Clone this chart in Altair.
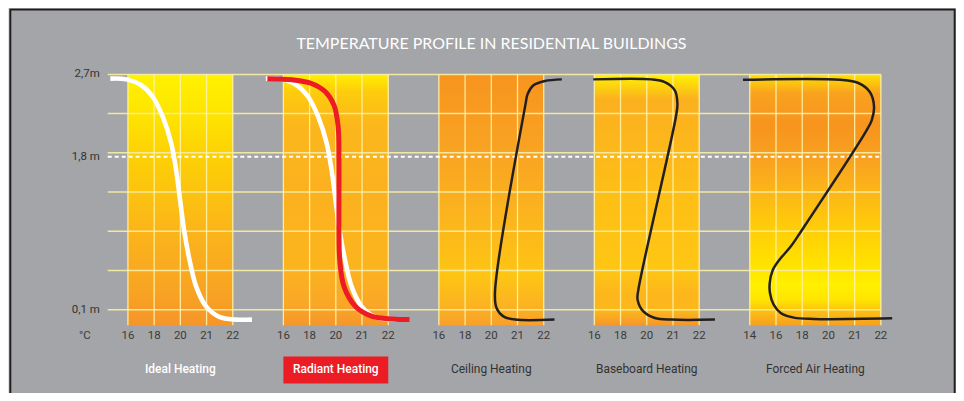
import altair as alt
import pandas as pd

# ---------------- data ----------------
TITLE = "TEMPERATURE PROFILE IN RESIDENTIAL BUILDINGS"
panel_names = ["Ideal Heating", "Radiant Heating", "Ceiling Heating",
               "Baseboard Heating", "Forced Air Heating"]
tick_labels = [
    ["16", "18", "20", "21", "22"],
    ["16", "18", "20", "21", "22"],
    ["16", "18", "20", "21", "22"],
    ["16", "18", "20", "21", "22"],
    ["14", "16", "18", "20", "21", "22"],
]
unit_label = "°C"
height_labels = ["2,7m", "1,8 m", "0,1 m"]
height_values = [2.7, 1.79, 0.1]
grid_heights = [0.1, 0.533, 0.967, 1.4, 1.833, 2.267, 2.7]
comfort_height = 1.79

# curve positions along each panel's temperature axis (tick index units) and height (m)
ideal_u = [-0.67, -0.06, 0.51, 0.95, 1.33, 1.65, 1.84, 1.99, 2.16, 2.35, 2.6, 2.98, 3.49, 4.12, 4.73]
ideal_h = [2.653, 2.645, 2.58, 2.45, 2.23, 1.94, 1.64, 1.31, 0.945, 0.65, 0.357, 0.136, 0.02, -0.01, -0.01]

radiant_u = [-0.61, 0.34, 1.10, 1.61, 1.93, 2.09, 2.12, 2.12, 2.15, 2.31, 2.75, 3.39, 4.15, 4.81]
radiant_h = [2.653, 2.64, 2.597, 2.505, 2.36, 2.12, 1.75, 1.018, 0.65, 0.357, 0.136, 0.026, -0.003, -0.01]

ceiling_u = [4.69, 4.05, 3.61, 3.39, 3.31, 2.14, 2.20, 2.46, 2.91, 4.41]
ceiling_h = [2.645, 2.627, 2.58, 2.487, 2.377, 0.284, 0.118, 0.026, -0.01, -0.01]

baseboard_u = [-0.04, 2.18, 2.69, 3.07, 3.17, 3.11, 1.68, 1.65, 1.87, 2.31, 2.94, 4.6]
baseboard_h = [2.645, 2.645, 2.615, 2.524, 2.377, 2.23, 0.32, 0.21, 0.081, 0.008, -0.01, -0.01]

forced_u = [-0.26, 3.45, 4.14, 4.58, 4.74, 4.65, 4.46, 1.96, 1.56, 1.13, 0.87, 0.76, 0.77, 0.91, 1.18, 1.68, 2.43, 5.43]
forced_h = [2.64, 2.64, 2.605, 2.505, 2.34, 2.193, 2.083, 0.967, 0.797, 0.651, 0.533, 0.394, 0.284, 0.155, 0.064, 0.012, -0.003, 0.004]

# ---------------- layout / style ----------------
STEP = 5.93            # panel-to-panel offset in tick units
W, H = 951, 385
XS = alt.Scale(domain=[-4.5741, 31.5856], nice=False, zero=False)
YS = alt.Scale(domain=[-0.8144, 3.4271], nice=False, zero=False)
PANEL_TOP, PANEL_BOTTOM = 2.7, -0.073
FONT = "Roboto"

gradients = [
    [(0, "#fff200"), (0.15, "#fee500"), (0.33, "#fdd005"), (0.62, "#fbb51a"), (0.88, "#f8a224"), (1, "#f5952a")],
    [(0, "#ffef00"), (0.07, "#fdcc0c"), (0.2, "#fcb71b"), (0.45, "#fbb11f"), (0.75, "#fcb41d"), (0.92, "#f9a727"), (1, "#f5962a")],
    [(0, "#f7941e"), (0.3, "#f9a322"), (0.55, "#fbb31e"), (0.8, "#fec513"), (0.92, "#fbb321"), (1, "#f8a02b")],
    [(0, "#fff200"), (0.1, "#fbb01f"), (0.18, "#fcb31d"), (0.5, "#febf16"), (0.78, "#ffc613"), (0.88, "#fdb51c"), (0.94, "#fcb81b"), (1, "#f7962a")],
    [(0, "#ffe100"), (0.075, "#f9a21f"), (0.2, "#f7941e"), (0.33, "#f8a020"), (0.47, "#fcb618"), (0.6, "#ffcb0a"), (0.74, "#ffe000"), (0.84, "#fff000"), (0.9, "#ffe400"), (0.95, "#fbbb14"), (1, "#f8a020")],
]


def grad(stops):
    return {"gradient": "linear", "x1": 0, "y1": 0, "x2": 0, "y2": 1,
            "stops": [{"offset": o, "color": c} for o, c in stops]}


one = pd.DataFrame({"a": [0]})
layers = []

# frame
layers.append(alt.Chart(one).mark_rect(fill="#a4a5a8", stroke="#1e1e1e", strokeWidth=2).encode(
    x=alt.value(2.3), x2=alt.value(949.7), y=alt.value(1), y2=alt.value(430)))

# panels
for k, labs in enumerate(tick_labels):
    df = pd.DataFrame({"x": [k * STEP], "x2": [k * STEP + len(labs) - 1],
                       "y": [PANEL_TOP], "y2": [PANEL_BOTTOM]})
    layers.append(alt.Chart(df).mark_rect(fill=grad(gradients[k])).encode(
        x=alt.X("x:Q", scale=XS, axis=None), x2="x2:Q",
        y=alt.Y("y:Q", scale=YS, axis=None), y2="y2:Q"))

left_u = -0.77
right_u = (len(tick_labels) - 1) * STEP + len(tick_labels[-1]) - 1

# horizontal grid
gdf = pd.DataFrame({"h": grid_heights, "x": left_u, "x2": right_u})
layers.append(alt.Chart(gdf).mark_rule(color="#f4eba2", strokeWidth=1.5, opacity=0.95).encode(
    x=alt.X("x:Q", scale=XS, axis=None), x2="x2:Q",
    y=alt.Y("h:Q", scale=YS, axis=None)))

# vertical tick lines
vrows = []
for k, labs in enumerate(tick_labels):
    for i, lab in enumerate(labs):
        vrows.append({"u": k * STEP + i, "y": PANEL_TOP, "y2": PANEL_BOTTOM, "label": lab})
vdf = pd.DataFrame(vrows)
layers.append(alt.Chart(vdf).mark_rule(color="#fff3a8", strokeWidth=1.3, opacity=0.9).encode(
    x=alt.X("u:Q", scale=XS, axis=None),
    y=alt.Y("y:Q", scale=YS, axis=None), y2="y2:Q"))

# dashed comfort line
ddf = pd.DataFrame({"h": [comfort_height], "x": [left_u], "x2": [right_u]})
layers.append(alt.Chart(ddf).mark_rule(color="#ffffff", strokeWidth=2, strokeDash=[4, 3]).encode(
    x=alt.X("x:Q", scale=XS, axis=None), x2="x2:Q",
    y=alt.Y("h:Q", scale=YS, axis=None)))


def curve(us, hs, k, name):
    return pd.DataFrame({"u": [k * STEP + v for v in us], "h": hs,
                         "i": list(range(len(us))), "s": name})


white = pd.concat([curve(ideal_u, ideal_h, 0, "ideal"), curve(ideal_u, ideal_h, 1, "ideal2")])
red = curve(radiant_u, radiant_h, 1, "radiant")
black = pd.concat([curve(ceiling_u, ceiling_h, 2, "ceiling"),
                   curve(baseboard_u, baseboard_h, 3, "baseboard"),
                   curve(forced_u, forced_h, 4, "forced")])

for df, col, sw in [(white, "#ffffff", 4.6), (red, "#ed1c24", 5), (black, "#231f20", 2.5)]:
    layers.append(alt.Chart(df).mark_line(color=col, strokeWidth=sw, interpolate="catmull-rom").encode(
        x=alt.X("u:Q", scale=XS, axis=None),
        y=alt.Y("h:Q", scale=YS, axis=None),
        detail="s:N", order="i:Q"))

# tick labels
layers.append(alt.Chart(vdf).mark_text(font=FONT, fontSize=11.5, color="#3b3b3b", baseline="middle").encode(
    x=alt.X("u:Q", scale=XS, axis=None), y=alt.value(328), text="label:N"))

# unit label
layers.append(alt.Chart(pd.DataFrame({"t": [unit_label]})).mark_text(
    font=FONT, fontSize=11.5, color="#3b3b3b", baseline="middle").encode(
    x=alt.value(77), y=alt.value(328), text="t:N"))

# height labels
hdf = pd.DataFrame({"h": height_values, "t": height_labels})
layers.append(alt.Chart(hdf).mark_text(font=FONT, fontSize=11.5, color="#333333", align="right",
                                       baseline="middle").encode(
    x=alt.value(92), y=alt.Y("h:Q", scale=YS, axis=None), text="t:N"))

# red box behind "Radiant Heating"
rdf = pd.DataFrame({"x": [1 * STEP], "x2": [1 * STEP + len(tick_labels[1]) - 1]})
layers.append(alt.Chart(rdf).mark_rect(color="#ec1c24").encode(
    x=alt.X("x:Q", scale=XS, axis=None), x2="x2:Q", y=alt.value(349), y2=alt.value(376)))

# panel names
ndf = pd.DataFrame({"u": [k * STEP + (len(tick_labels[k]) - 1) / 2 for k in range(len(panel_names))],
                    "t": panel_names})
layers.append(alt.Chart(ndf.iloc[:2]).mark_text(font=FONT, fontSize=12, fontWeight=500, color="#ffffff",
                                                baseline="middle").encode(
    x=alt.X("u:Q", scale=XS, axis=None), y=alt.value(362), text="t:N"))
layers.append(alt.Chart(ndf.iloc[2:]).mark_text(font=FONT, fontSize=12, color="#333333",
                                                baseline="middle").encode(
    x=alt.X("u:Q", scale=XS, axis=None), y=alt.value(362), text="t:N"))

# title
layers.append(alt.Chart(pd.DataFrame({"t": [TITLE]})).mark_text(
    font="Liberation Sans Narrow, Lato", fontSize=16, color="#ffffff", baseline="middle").encode(
    x=alt.value(485), y=alt.value(36), text="t:N"))

chart = alt.layer(*layers).properties(
    width=W, height=H, padding=0,
    autosize=alt.AutoSizeParams(type="none"),
    background="#e1e1e3",
).configure_view(strokeWidth=0)

chart.save("out.html", embed_options={"renderer": "svg", "actions": False})
